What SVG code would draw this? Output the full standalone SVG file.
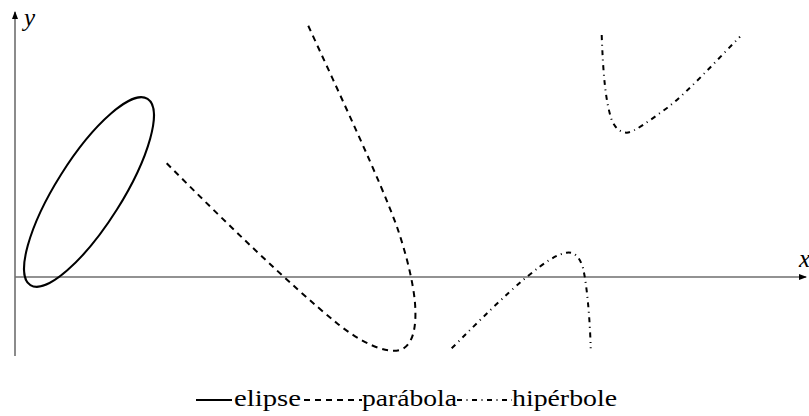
<svg xmlns="http://www.w3.org/2000/svg" width="809" height="416" viewBox="0 0 809 416">
<style>
.axis{stroke:#6e6e6e;stroke-width:1.6;fill:none}
.curve{stroke:#000;stroke-width:2;fill:none}
.dashed{stroke-dasharray:6 5}
.dashdot{stroke-dasharray:5 4.5 1 4.5}
.lbl{font-family:"Liberation Serif","Times New Roman",Times,"DejaVu Serif","Noto Serif",serif;font-size:23px;fill:#000}
.math{font-family:"Liberation Serif","Times New Roman",Times,"DejaVu Serif","Noto Serif",serif;font-style:italic;font-size:25px;fill:#000}
</style>
<defs>
<marker id="arr" markerWidth="8" markerHeight="6" refX="7" refY="3" orient="auto" markerUnits="userSpaceOnUse">
<path d="M0,0 L8,3 L0,6 Z" fill="#000"/>
</marker>
</defs>
<rect width="809" height="416" fill="#fff"/>
<g id="axes">
<line class="axis" x1="15" y1="277" x2="806" y2="277" marker-end="url(#arr)"/>
<line class="axis" x1="15" y1="356" x2="15" y2="12" marker-end="url(#arr)"/>
<text class="math" x="24" y="26">y</text>
<text class="math" x="799" y="267">x</text>
</g>
<g id="curves">
<g id="elipse">
<ellipse class="curve" cx="89" cy="192" rx="110" ry="33" transform="rotate(-57.8 89 192)"/>
</g>
<g id="parabola">
<path class="curve dashed" d="M166.7,163.3 C223,220 290,285 336.7,323 C360,342 385,354 400,350 C412,346 417,330 415,303 C413,280 405,250 397,227 C380,180 340,95 307,23"/>
</g>
<g id="hiperbole">
<path class="curve dashdot" d="M451.7,348.3 C480,320 505,295 526.7,277 C545,262 557,254 566.7,252.7 C575,251.5 580,258 583,268 C587,285 590,320 590.7,348.3"/>
<path class="curve dashdot" d="M601.7,35 C603,70 605,100 611.7,120 C615,128 620,132.5 626.7,132.7 C635,132 650,120 666.7,108.3 C690,90 715,62 740,36.7"/>
</g>
</g>
<g id="legend">
<line class="curve" x1="196" y1="400" x2="232" y2="400"/>
<text class="lbl" x="234" y="406" textLength="67" lengthAdjust="spacingAndGlyphs">elipse</text>
<line class="curve dashed" x1="304" y1="400" x2="362" y2="400"/>
<text class="lbl" x="362" y="406" textLength="95" lengthAdjust="spacingAndGlyphs">parábola</text>
<line class="curve dashdot" x1="457" y1="400" x2="512" y2="400"/>
<text class="lbl" x="512" y="406" textLength="105" lengthAdjust="spacingAndGlyphs">hipérbole</text>
</g>
</svg>
